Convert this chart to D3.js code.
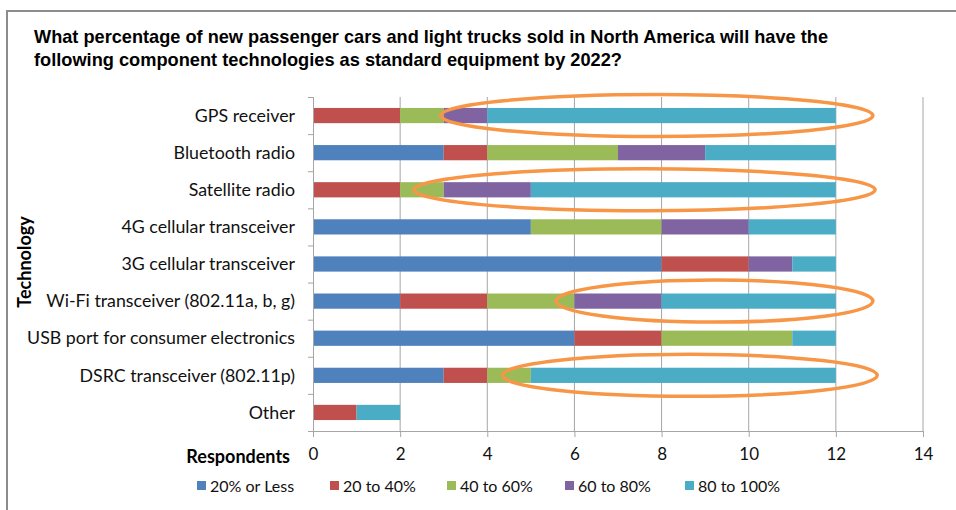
<!DOCTYPE html>
<html>
<head>
<meta charset="utf-8">
<script src="https://cdn.jsdelivr.net/npm/d3@7"></script>
<style>
  body { margin: 0; background: #fff; }
  svg { display: block; }
</style>
</head>
<body>
<div id="chart"></div>
<script>
// survey answers, respondents per share bucket
let technologies = ["GPS receiver", "Bluetooth radio", "Satellite radio", "4G cellular transceiver",
    "3G cellular transceiver", "Wi-Fi transceiver (802.11a, b, g)", "USB port for consumer electronics",
    "DSRC transceiver (802.11p)", "Other"];
let buckets = ["20% or Less", "20 to 40%", "40 to 60%", "60 to 80%", "80 to 100%"];
let lessThan20 = [0, 3, 0, 5, 8, 2, 6, 3, 0];
let from20to40 = [2, 1, 2, 0, 2, 2, 2, 1, 1];
let from40to60 = [1, 3, 1, 3, 0, 2, 3, 1, 0];
let from60to80 = [1, 2, 2, 2, 1, 2, 0, 0, 0];
let from80to100 = [8, 3, 7, 2, 1, 4, 1, 7, 1];
let xTicks = [0, 2, 4, 6, 8, 10, 12, 14];
let colors = ["#4F81BD", "#C0504D", "#9BBB59", "#8064A2", "#4BACC6"];

// orange highlight rings drawn on top (row, start, end in respondents)
let ringRows = ["GPS receiver", "Satellite radio", "Wi-Fi transceiver (802.11a, b, g)", "DSRC transceiver (802.11p)"];
let ringStart = [2.93, 2.32, 5.58, 4.35];
let ringEnd = [12.85, 12.9, 12.85, 12.95];

let width = 956, height = 510;
let svg = d3.select("#chart").append("svg").attr("width", width).attr("height", height);

// frame
svg.append("path")
    .attr("d", `M7,${height + 2}V11H${width + 2}`)
    .attr("fill", "none")
    .attr("stroke", "#8c8c8c")
    .attr("stroke-width", 2);

let title = svg.append("g").attr("font-family", "'Liberation Sans Narrow', 'Liberation Sans', Arial, sans-serif")
    .attr("font-weight", "bold").attr("font-size", 19).attr("fill", "#000");
title.append("text").attr("x", 34).attr("y", 43)
    .attr("textLength", 794).attr("lengthAdjust", "spacingAndGlyphs")
    .text("What percentage of new passenger cars and light trucks sold in North America will have the");
title.append("text").attr("x", 34).attr("y", 66)
    .attr("textLength", 588).attr("lengthAdjust", "spacingAndGlyphs")
    .text("following component technologies as standard equipment by 2022?");

let x = d3.scaleLinear().domain([0, 14]).range([313, 923]);
let y = d3.scaleBand().domain(technologies).range([97, 431]).paddingInner(0.59).paddingOuter(0.295);

let labelFont = "Lato, 'Open Sans', sans-serif";

// gridlines
svg.append("g").selectAll("line").data(xTicks.slice(1)).enter().append("line")
    .attr("x1", d => x(d)).attr("x2", d => x(d))
    .attr("y1", 97).attr("y2", 431)
    .attr("stroke", "#a6a6a6").attr("stroke-width", 1);

// stacked bars
let rows = technologies.map((t, i) => ({
    tech: t,
    values: [lessThan20[i], from20to40[i], from40to60[i], from60to80[i], from80to100[i]]
}));
let stack = d3.stack().keys(d3.range(5)).value((d, k) => d.values[k]);
let series = stack(rows);

svg.append("g").selectAll("g").data(series).enter().append("g")
    .attr("fill", (d, i) => colors[i])
    .selectAll("rect").data(d => d).enter().append("rect")
    .attr("x", d => x(d[0]))
    .attr("y", d => y(d.data.tech))
    .attr("width", d => x(d[1]) - x(d[0]))
    .attr("height", y.bandwidth());

// axes
let xAxis = svg.append("g").attr("transform", "translate(0,431)")
    .call(d3.axisBottom(x).tickValues(xTicks).tickSize(6).tickSizeOuter(0));
xAxis.select(".domain").attr("stroke", "#a6a6a6").attr("d", "M308,0.5H923");
xAxis.selectAll(".tick line").attr("stroke", "#a6a6a6");
xAxis.selectAll(".tick text").attr("font-family", labelFont).attr("font-size", 17)
    .attr("fill", "#111").attr("dy", "1.2em");

let yAxis = svg.append("g").attr("transform", "translate(313,0)");
yAxis.append("line").attr("x1", 0.5).attr("x2", 0.5).attr("y1", 97).attr("y2", 437)
    .attr("stroke", "#a6a6a6");
yAxis.selectAll(".ytick").data(d3.range(technologies.length)).enter().append("line")
    .attr("x1", -5).attr("x2", 0)
    .attr("y1", i => y.range()[0] + i * y.step() + 0.5)
    .attr("y2", i => y.range()[0] + i * y.step() + 0.5)
    .attr("stroke", "#a6a6a6");
yAxis.selectAll(".ylabel").data(technologies).enter().append("text")
    .attr("x", -18)
    .attr("y", d => y(d) + y.bandwidth() / 2)
    .attr("dy", "0.35em")
    .attr("text-anchor", "end")
    .attr("font-family", labelFont).attr("font-size", 17.8).attr("fill", "#111")
    .text(d => d);

// axis titles
svg.append("text")
    .attr("transform", "translate(31,262) rotate(-90)")
    .attr("text-anchor", "middle")
    .attr("font-family", labelFont).attr("font-weight", "bold").attr("font-size", 18)
    .text("Technology");
svg.append("text")
    .attr("x", 290).attr("y", 463)
    .attr("text-anchor", "end")
    .attr("font-family", labelFont).attr("font-weight", "bold").attr("font-size", 18)
    .text("Respondents");

// legend
let legendX = [197, 330, 447, 565, 685];
let legend = svg.append("g").selectAll("g").data(buckets).enter().append("g")
    .attr("transform", (d, i) => `translate(${legendX[i]},486)`);
legend.append("rect").attr("x", 0).attr("y", -5).attr("width", 9).attr("height", 9)
    .attr("fill", (d, i) => colors[i]);
legend.append("text").attr("x", 13).attr("dy", "0.35em")
    .attr("font-family", labelFont).attr("font-size", 16).attr("fill", "#111")
    .text(d => d);

// highlight rings
svg.append("g").selectAll("ellipse").data(ringRows).enter().append("ellipse")
    .attr("cx", (d, i) => (x(ringStart[i]) + x(ringEnd[i])) / 2)
    .attr("cy", d => y(d) + y.bandwidth() / 2)
    .attr("rx", (d, i) => (x(ringEnd[i]) - x(ringStart[i])) / 2)
    .attr("ry", 21)
    .attr("fill", "none")
    .attr("stroke", "#F79646")
    .attr("stroke-width", 3.5);
</script>
</body>
</html>
